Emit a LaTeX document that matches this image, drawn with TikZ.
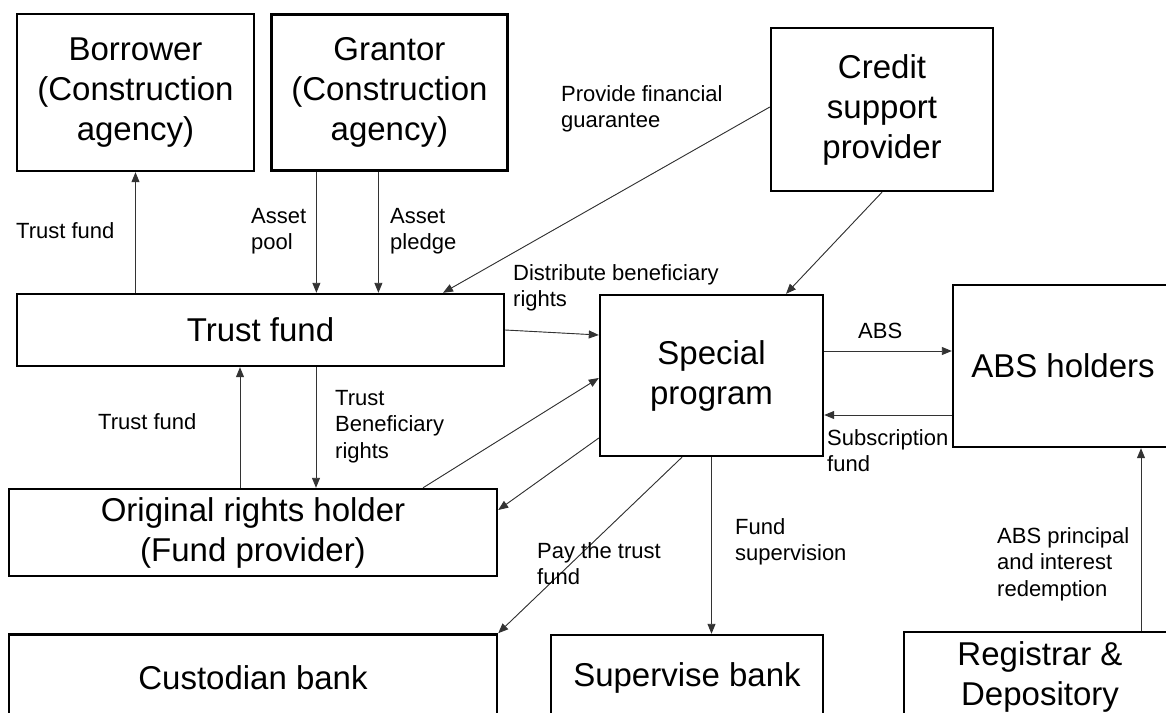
\documentclass[tikz,border=0pt]{standalone}
\usepackage{fontspec}
\setmainfont{Liberation Sans}
\usetikzlibrary{positioning,arrows.meta}

\begin{document}
\begin{tikzpicture}[
    x=1pt, y=-1pt,
    >={Triangle[length=10pt,width=8pt]},
    party/.style={rectangle, draw, line width=2.4pt, align=center, inner sep=0pt, font=\fontsize{33}{40}\selectfont},
    flow/.style={->, line width=0.9pt, draw=black!80, fill=black},
    note/.style={align=left, inner sep=0pt, anchor=north west, font=\fontsize{22}{26.5}\selectfont}
]
\useasboundingbox (0,0) rectangle (1166,712);
\clip (0,0) rectangle (1166,712);

% parties
\node[party, minimum width=237pt, minimum height=157pt] (borrower) at (135.5,92.5) {Borrower\\(Construction\\agency)};
\node[party, minimum width=236pt, minimum height=156pt, right=15pt of borrower] (grantor) {Grantor\\(Construction\\agency)};
\node[party, minimum width=222pt, minimum height=163pt] (credit) at (882,109.5) {Credit\\support\\provider};
\node[party, minimum width=487pt, minimum height=72pt] (trust) at (260.5,330) {Trust fund};
\node[party, minimum width=223pt, minimum height=161pt] (special) at (711.5,375.5) {Special\\program};
\node[party, minimum width=220pt, minimum height=162pt] (absh) at (1063,366) {ABS holders};
\node[party, minimum width=488pt, minimum height=87pt] (orig) at (253,532.5) {Original rights holder\\(Fund provider)};
\node[party, minimum width=488pt, minimum height=86pt, below=56pt of orig] (custodian) {Custodian bank};
\node[party, minimum width=272pt, minimum height=86pt] (supervise) at (687,678) {Supervise bank};
\node[party, minimum width=272pt, minimum height=89pt] (registrar) at (1040,676.5) {Registrar \&\\Depository};

% flows
\draw[flow] (trust.north -| borrower.south) -- (borrower.south);
\draw[flow] ([xshift=-73pt]grantor.south) -- ([xshift=-73pt]grantor.south |- trust.north);
\draw[flow] ([xshift=-11pt]grantor.south) -- ([xshift=-11pt]grantor.south |- trust.north);
\draw[flow] ([yshift=2.5pt]credit.west) -- ([xshift=182.5pt]trust.north);
\draw[flow] (credit.south) -- ([xshift=74.5pt]special.north);
\draw[flow] (trust.east) -- ([yshift=40.5pt]special.west);
\draw[flow] ([xshift=55.5pt]trust.south) -- ([xshift=55.5pt]trust.south |- orig.north);
\draw[flow] ([xshift=-20.5pt]trust.south |- orig.north) -- ([xshift=-20.5pt]trust.south);
\draw[flow] ([xshift=170pt]orig.north) -- ([yshift=-2.5pt]special.west);
\draw[flow] ([yshift=-62.5pt]special.west) -- ([yshift=22.5pt]orig.east);
\draw[flow] ([xshift=-29.5pt]special.south) -- (custodian.north east);
\draw[flow] (special.south) -- (special.south |- supervise.north);
\draw[flow] ([yshift=24.5pt]special.east) -- ([yshift=24.5pt]special.east -| absh.west);
\draw[flow] ([yshift=-39.5pt]special.east -| absh.west) -- ([yshift=-39.5pt]special.east);
\draw[flow] ([xshift=78pt]absh.south |- registrar.north) -- ([xshift=78pt]absh.south);

% labels
\node[note] (lborrow) at (16,222) {Trust fund};
\node[note] (lpool) at (251,208) {Asset\\pool};
\node[note] (lpledge) at (390,208) {Asset\\pledge};
\node[note] (lguar) at (561,85) {Provide financial\\guarantee};
\node[note] (ldistr) at (513,264) {Distribute beneficiary\\rights};
\node[note] (lback) at (98,413) {Trust fund};
\node[note] (lbenef) at (335,390) {Trust\\Beneficiary\\rights};
\node[note] (lpay) at (537,542) {Pay the trust\\fund};
\node[note] (lsuper) at (735,518) {Fund\\supervision};
\node[note] (labs) at (858,323) {ABS};
\node[note] (lsubs) at (827,429) {Subscription\\fund};
\node[note] (lredeem) at (997,527) {ABS principal\\and interest\\redemption};
\end{tikzpicture}
\end{document}
